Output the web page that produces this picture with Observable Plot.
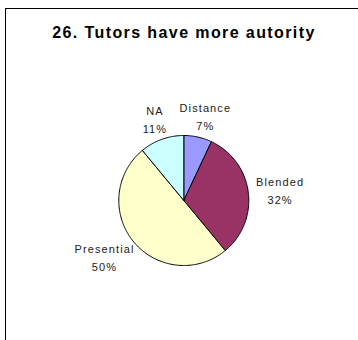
<!DOCTYPE html>
<html>
<head>
<meta charset="utf-8">
<script src="https://cdn.jsdelivr.net/npm/d3@7"></script>
<script src="https://cdn.jsdelivr.net/npm/@observablehq/plot@0.6"></script>
<style>
  html, body { margin: 0; padding: 0; background: #fff; overflow: hidden; width: 358px; height: 340px; }
  #wrap { position: relative; width: 358px; height: 340px; overflow: hidden; font-family: "Liberation Sans", Arial, sans-serif; }
  #hline { position: absolute; left: 5px; top: 8px; width: 353px; height: 0; border-top: 1.5px solid #000; }
  #vline { position: absolute; left: 5px; top: 8px; width: 0; height: 332px; border-left: 1.5px solid #000; }
  #title { position: absolute; left: 0; top: 24.5px; width: 368px; text-align: center; font-weight: bold; font-size: 16px; line-height: 16px; letter-spacing: 1.4px; color: #000; }
  #chart { position: absolute; left: 0; top: 0; width: 358px; height: 340px; overflow: hidden; }
  #chart svg { display: block; }
</style>
</head>
<body>
<div id="wrap">
  <div id="hline"></div>
  <div id="vline"></div>
  <div id="chart"></div>
  <div id="title">26. Tutors have more autority</div>
</div>
<script>
const categories = ["Distance", "Blended", "Presential", "NA"];
const values = [7, 32, 50, 11];
const colors = ["#9999FF", "#993366", "#FFFFCC", "#CCFFFF"];

// geometry (pixels)
const W = 358, H = 340, cx = 183.3, cy = 200, R = 65;
const labelFont = 11, letterSp = 1.1, gap = 8;

const arcs = d3.pie().sort(null)(values);

// slice outlines in unit-circle coordinates
const slicePts = [];
arcs.forEach((a, i) => {
  const name = categories[i];
  slicePts.push({name, x: 0, y: 0});
  const steps = Math.max(2, Math.ceil((a.endAngle - a.startAngle) / (Math.PI / 180)));
  for (let k = 0; k <= steps; k++) {
    const t = a.startAngle + (a.endAngle - a.startAngle) * k / steps;
    slicePts.push({name, x: Math.sin(t), y: Math.cos(t)});
  }
  slicePts.push({name, x: 0, y: 0});
});

// label placement: box pushed outward from mid-angle point
const ctx = document.createElement("canvas").getContext("2d");
ctx.font = `${labelFont}px "Liberation Sans"`;
const lineH = 18;
const labels = arcs.map((a, i) => {
  const lines = [categories[i], values[i] + "%"];
  const w = d3.max(lines, s => ctx.measureText(s).width + letterSp * s.length);
  const h = lineH + labelFont;
  const m = (a.startAngle + a.endAngle) / 2;
  const s = Math.sin(m), c = Math.cos(m);
  const r = (R + gap) / R;
  const x = r * s + (s * w / 2) / R;
  const y = r * c + (c * h / 2) / R;
  return {text: lines.join("\n"), x, y};
});

const plot = Plot.plot({
  width: W,
  height: H,
  margin: 0,
  x: {domain: [-1, 1], range: [cx - R, cx + R], axis: null},
  y: {domain: [-1, 1], range: [cy + R, cy - R], axis: null},
  color: {domain: categories, range: colors},
  style: {fontFamily: '"Liberation Sans", Arial, sans-serif', background: "transparent", letterSpacing: letterSp + "px", overflow: "hidden"},
  marks: [
    Plot.line(slicePts, {x: "x", y: "y", z: "name", fill: "name", stroke: "#000", strokeWidth: 1, curve: "linear"}),
    Plot.text(labels, {x: "x", y: "y", text: "text", fontSize: labelFont, lineHeight: lineH / labelFont, fill: "#222", textAnchor: "middle"})
  ]
});
document.getElementById("chart").appendChild(plot);
</script>
</body>
</html>
